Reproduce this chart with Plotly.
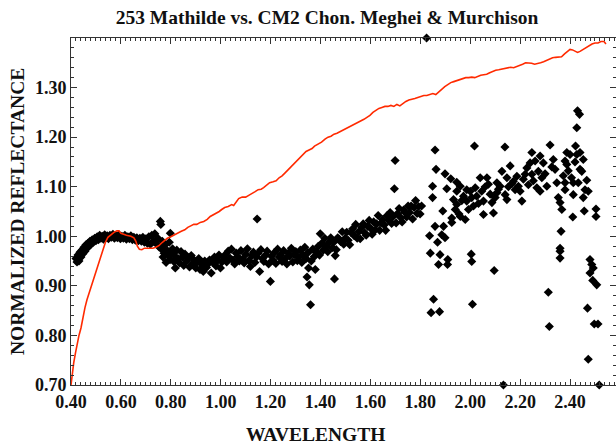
import numpy as np
import plotly.graph_objects as go

# ---------------- data ----------------
# Red line: CM2 chondrite (Meghei & Murchison) spectrum
cm2_wl = [0.400, 0.405, 0.411, 0.418, 0.425, 0.432, 0.440, 0.448, 0.456, 0.464,
          0.472, 0.480, 0.490, 0.498, 0.508, 0.518, 0.528, 0.538, 0.548, 0.560,
          0.572, 0.584, 0.592, 0.600, 0.610, 0.622, 0.640, 0.652, 0.660, 0.666,
          0.674, 0.684, 0.694, 0.704, 0.716, 0.728, 0.740, 0.752, 0.762, 0.774,
          0.786, 0.800, 0.814, 0.828, 0.842, 0.856, 0.868, 0.880, 0.892, 0.904,
          0.918, 0.932, 0.946, 0.958, 0.970, 0.982, 0.994, 1.004, 1.016, 1.030,
          1.044, 1.052, 1.060, 1.072, 1.086, 1.100, 1.114, 1.126, 1.138, 1.150,
          1.162, 1.172, 1.184, 1.196, 1.210, 1.222, 1.234, 1.246, 1.258, 1.270,
          1.282, 1.294, 1.306, 1.318, 1.330, 1.342, 1.354, 1.366, 1.376, 1.390,
          1.404, 1.418, 1.430, 1.442, 1.454, 1.466, 1.478, 1.490, 1.502, 1.514,
          1.526, 1.538, 1.550, 1.562, 1.574, 1.586, 1.598, 1.610, 1.622, 1.634,
          1.646, 1.658, 1.670, 1.682, 1.694, 1.706, 1.718, 1.730, 1.742, 1.754,
          1.766, 1.778, 1.790, 1.802, 1.814, 1.826, 1.838, 1.850, 1.862, 1.874,
          1.886, 1.898, 1.910, 1.922, 1.934, 1.946, 1.958, 1.970, 1.982, 1.994,
          2.006, 2.018, 2.030, 2.042, 2.054, 2.066, 2.078, 2.090, 2.102, 2.114,
          2.126, 2.138, 2.150, 2.162, 2.174, 2.186, 2.198, 2.210, 2.222, 2.234,
          2.246, 2.258, 2.270, 2.282, 2.294, 2.306, 2.318, 2.330, 2.342, 2.354,
          2.366, 2.378, 2.390, 2.400, 2.410, 2.420, 2.430, 2.440, 2.452, 2.464,
          2.476, 2.488, 2.500, 2.512, 2.524, 2.536, 2.544]
cm2_refl = [0.700, 0.725, 0.745, 0.765, 0.785, 0.800, 0.815, 0.838, 0.856, 0.872,
            0.885, 0.898, 0.915, 0.928, 0.943, 0.956, 0.972, 0.988, 0.998, 1.004,
            1.008, 1.011, 1.011, 1.006, 1.004, 1.002, 1.000, 0.997, 0.990, 0.980,
            0.974, 0.973, 0.976, 0.976, 0.975, 0.976, 0.978, 0.981, 0.986, 0.992,
            0.996, 0.999, 1.003, 1.006, 1.010, 1.013, 1.018, 1.021, 1.024, 1.024,
            1.028, 1.030, 1.034, 1.040, 1.043, 1.046, 1.050, 1.054, 1.058, 1.060,
            1.064, 1.062, 1.068, 1.076, 1.079, 1.079, 1.083, 1.086, 1.090, 1.094,
            1.095, 1.098, 1.103, 1.108, 1.110, 1.112, 1.118, 1.122, 1.128, 1.134,
            1.140, 1.146, 1.154, 1.160, 1.166, 1.171, 1.174, 1.177, 1.182, 1.186,
            1.190, 1.196, 1.200, 1.202, 1.206, 1.208, 1.211, 1.214, 1.218, 1.220,
            1.224, 1.227, 1.230, 1.232, 1.236, 1.240, 1.244, 1.250, 1.254, 1.258,
            1.260, 1.262, 1.262, 1.264, 1.262, 1.266, 1.263, 1.268, 1.272, 1.275,
            1.276, 1.278, 1.280, 1.282, 1.284, 1.284, 1.286, 1.288, 1.286, 1.292,
            1.297, 1.302, 1.306, 1.310, 1.312, 1.314, 1.316, 1.318, 1.320, 1.320,
            1.321, 1.320, 1.323, 1.325, 1.326, 1.327, 1.330, 1.333, 1.335, 1.336,
            1.337, 1.339, 1.340, 1.341, 1.340, 1.342, 1.344, 1.347, 1.350, 1.350,
            1.349, 1.347, 1.348, 1.350, 1.352, 1.355, 1.357, 1.360, 1.361, 1.361,
            1.362, 1.368, 1.374, 1.377, 1.376, 1.373, 1.371, 1.373, 1.377, 1.381,
            1.384, 1.388, 1.390, 1.390, 1.393, 1.393, 1.388]

# Black diamonds: 253 Mathilde, in wavelength segments
seg1_wl = [0.420, 0.424, 0.428, 0.432, 0.436, 0.440, 0.444, 0.448, 0.452, 0.456,
           0.460, 0.464, 0.468, 0.472, 0.476, 0.480, 0.485, 0.490, 0.495, 0.500,
           0.505, 0.510, 0.515, 0.520, 0.525, 0.530, 0.535, 0.540, 0.545, 0.550,
           0.556, 0.562, 0.568, 0.574, 0.580, 0.586, 0.592, 0.598, 0.604, 0.610,
           0.616, 0.622, 0.628, 0.634, 0.640, 0.646, 0.652, 0.658, 0.664, 0.670,
           0.676, 0.682, 0.688, 0.694, 0.700, 0.706, 0.712, 0.718, 0.724, 0.730,
           0.736, 0.742, 0.748, 0.754, 0.758, 0.760]
seg1_refl = [0.955, 0.948, 0.962, 0.950, 0.968, 0.958, 0.972, 0.965, 0.978, 0.970,
             0.983, 0.976, 0.986, 0.980, 0.990, 0.984, 0.993, 0.988, 0.996, 0.991,
             0.999, 0.993, 1.002, 0.996, 1.000, 0.994, 1.003, 0.997, 1.001, 0.995,
             1.002, 0.998, 1.004, 0.996, 1.001, 0.997, 1.003, 0.995, 1.000, 0.996,
             1.002, 0.994, 0.999, 0.995, 1.001, 0.993, 0.998, 0.992, 0.997, 0.991,
             0.996, 0.990, 0.998, 0.988, 0.995, 0.986, 0.999, 0.984, 1.002, 0.990,
             1.005, 0.985, 0.996, 0.978, 1.030, 1.024]

seg2_wl = [0.762, 0.766, 0.769, 0.773, 0.777, 0.781, 0.786, 0.790, 0.794, 0.797,
           0.798, 0.803, 0.807, 0.812, 0.816, 0.818, 0.824, 0.829, 0.835, 0.841,
           0.846, 0.852, 0.857, 0.864, 0.869, 0.875, 0.882, 0.888, 0.893, 0.900,
           0.906, 0.912, 0.917, 0.924, 0.930, 0.936, 0.943, 0.949, 0.955, 0.962,
           0.968, 0.975, 0.981, 0.987, 0.993, 0.999, 1.005, 1.011]
seg2_refl = [0.975, 0.990, 0.958, 0.966, 0.983, 0.947, 0.971, 0.962, 0.988, 0.953,
             1.006, 0.968, 0.975, 0.949, 0.960, 0.936, 0.972, 0.955, 0.946, 0.969,
             0.958, 0.941, 0.964, 0.950, 0.957, 0.938, 0.961, 0.945, 0.952, 0.936,
             0.948, 0.955, 0.933, 0.943, 0.929, 0.950, 0.937, 0.944, 0.952, 0.926,
             0.947, 0.958, 0.940, 0.951, 0.962, 0.936, 0.948, 0.957]

seg3_wl = [1.017, 1.024, 1.030, 1.037, 1.043, 1.049, 1.056, 1.062, 1.068, 1.075,
           1.081, 1.088, 1.094, 1.101, 1.107, 1.113, 1.119, 1.125, 1.131, 1.137,
           1.143, 1.146, 1.150, 1.156, 1.161, 1.167, 1.173, 1.180, 1.186, 1.192,
           1.199, 1.203, 1.209, 1.215, 1.221, 1.228, 1.234, 1.240, 1.246, 1.252,
           1.259, 1.265, 1.271, 1.277, 1.283, 1.289, 1.295, 1.301, 1.307, 1.313,
           1.319, 1.325, 1.331, 1.337, 1.342, 1.346, 1.350, 1.352, 1.355, 1.360,
           1.363, 1.369, 1.375, 1.379, 1.385, 1.391, 1.396, 1.399]
seg3_refl = [0.962, 0.948, 0.970, 0.956, 0.974, 0.952, 0.944, 0.966, 0.959, 0.950,
             0.971, 0.954, 0.946, 0.964, 0.975, 0.951, 0.939, 0.961, 0.968, 0.947,
             0.958, 1.035, 0.966, 0.929, 0.973, 0.955, 0.949, 0.962, 0.970, 0.944,
             0.909, 0.960, 0.952, 0.967, 0.945, 0.974, 0.958, 0.962, 0.949, 0.971,
             0.955, 0.944, 0.966, 0.960, 0.976, 0.948, 0.963, 0.969, 0.951, 0.958,
             0.972, 0.947, 0.962, 0.978, 0.955, 0.918, 0.967, 0.936, 0.902, 0.862,
             0.950, 0.974, 0.959, 0.933, 0.968, 0.980, 0.962, 1.005]

seg4_wl = [1.405, 1.411, 1.417, 1.423, 1.429, 1.435, 1.441, 1.447, 1.453, 1.456,
           1.459, 1.463, 1.469, 1.475, 1.481, 1.487, 1.493, 1.499, 1.505, 1.511,
           1.517, 1.523, 1.529, 1.535, 1.541, 1.547, 1.553, 1.559, 1.565, 1.571,
           1.577, 1.583, 1.589, 1.595, 1.601, 1.607, 1.613, 1.619, 1.625, 1.631,
           1.637, 1.643, 1.649, 1.655, 1.661, 1.667, 1.673, 1.679, 1.685, 1.691,
           1.696, 1.699, 1.703, 1.709, 1.715, 1.721, 1.727, 1.733, 1.739, 1.745,
           1.751, 1.757, 1.763, 1.769, 1.775, 1.781, 1.787, 1.793, 1.799, 1.805]
seg4_refl = [0.986, 0.972, 0.996, 0.980, 0.969, 0.988, 0.997, 0.977, 0.988, 0.914,
             0.961, 0.973, 0.997, 0.994, 0.989, 1.009, 0.984, 0.996, 1.008, 0.992,
             0.983, 1.007, 1.015, 1.001, 1.024, 0.996, 1.009, 0.995, 1.018, 1.025,
             1.007, 1.002, 1.020, 1.032, 1.016, 1.004, 1.029, 1.013, 1.025, 1.042,
             1.012, 1.027, 1.034, 1.023, 1.012, 1.042, 1.032, 1.048, 1.026, 1.040,
             1.096, 1.153, 1.027, 1.046, 1.056, 1.038, 1.029, 1.053, 1.048, 1.039,
             1.061, 1.048, 1.061, 1.035, 1.058, 1.072, 1.046, 1.060, 1.045, 1.061]

seg5_wl = [1.825, 1.837, 1.840, 1.843, 1.849, 1.849, 1.853, 1.859, 1.859, 1.863,
           1.869, 1.873, 1.877, 1.879, 1.886, 1.890, 1.893, 1.899, 1.899, 1.906,
           1.909, 1.910, 1.922, 1.926, 1.926, 1.933, 1.940, 1.946, 1.946, 1.946,
           1.955, 1.960, 1.960, 1.966, 1.973, 1.980, 1.986, 1.986, 1.993, 2.000,
           2.004, 2.006, 2.006, 2.009, 2.013, 2.017, 2.020, 2.026, 2.033, 2.040,
           2.046, 2.053, 2.053, 2.060, 2.067, 2.073, 2.080, 2.087, 2.093, 2.096,
           2.100, 2.107, 2.107, 2.113, 2.120, 2.127, 2.133, 2.139, 2.140, 2.147,
           2.147, 2.153, 2.160, 2.167, 2.173, 2.180, 2.187, 2.193, 2.200, 2.207,
           2.213, 2.220, 2.227, 2.233, 2.240, 2.247, 2.247, 2.253, 2.260, 2.267,
           2.273, 2.280, 2.280, 2.287, 2.293, 2.300, 2.307, 2.313, 2.317, 2.320,
           2.327, 2.333, 2.340, 2.347, 2.353, 2.360, 2.360, 2.360, 2.360, 2.364,
           2.367, 2.373, 2.380, 2.380, 2.380, 2.387, 2.387, 2.393, 2.400, 2.406,
           2.411, 2.413, 2.413, 2.420, 2.422, 2.427, 2.427, 2.430, 2.433, 2.438,
           2.440, 2.440, 2.447, 2.453, 2.453, 2.457, 2.460, 2.467, 2.470, 2.473,
           2.473, 2.480, 2.480, 2.487, 2.491, 2.493, 2.497, 2.504, 2.504, 2.507,
           2.512, 2.517]
seg5_refl = [1.400, 1.001, 0.966, 0.846, 1.101, 1.078, 0.873, 1.174, 1.020, 1.135,
             0.988, 0.943, 0.848, 0.963, 1.003, 1.051, 1.020, 0.997, 1.126, 1.096,
             0.943, 0.953, 1.116, 1.037, 1.028, 1.074, 1.054, 1.064, 1.109, 1.091,
             1.045, 1.040, 1.101, 1.072, 1.081, 1.034, 1.094, 1.071, 1.054, 1.091,
             0.964, 0.949, 1.078, 0.863, 1.061, 1.182, 1.098, 1.081, 1.066, 1.118,
             1.091, 1.071, 1.044, 1.100, 1.118, 1.105, 1.085, 1.068, 1.047, 0.931,
             1.078, 1.088, 1.108, 1.095, 1.101, 1.131, 0.700, 1.180, 1.084, 1.074,
             1.118, 1.100, 1.142, 1.106, 1.111, 1.094, 1.121, 1.101, 1.091, 1.071,
             1.115, 1.125, 1.138, 1.104, 1.148, 1.125, 1.169, 1.112, 1.152, 1.098,
             1.131, 1.162, 1.091, 1.118, 1.148, 1.126, 1.101, 0.887, 0.818, 1.184,
             1.140, 1.155, 1.135, 1.108, 1.078, 1.068, 0.976, 0.970, 0.956, 1.010,
             1.054, 1.122, 1.152, 1.108, 1.094, 1.169, 1.145, 1.132, 1.165, 1.118,
             1.039, 1.108, 1.084, 1.150, 1.182, 1.219, 1.165, 1.253, 1.108, 1.246,
             1.169, 1.135, 1.131, 1.155, 1.078, 1.051, 1.094, 1.113, 0.855, 0.752,
             1.091, 0.953, 0.926, 0.943, 0.911, 0.936, 0.823, 1.055, 1.040, 0.902,
             0.823, 0.700]

x_major_vals = [0.4, 0.5, 0.6, 0.7, 0.8, 0.9, 1.0, 1.1, 1.2, 1.3, 1.4,
                1.5, 1.6, 1.7, 1.8, 1.9, 2.0, 2.1, 2.2, 2.3, 2.4, 2.5]
x_tick_text = ["0.40", "", "0.60", "", "0.80", "", "1.00", "", "1.20", "", "1.40",
               "", "1.60", "", "1.80", "", "2.00", "", "2.20", "", "2.40", ""]
y_major_vals = [0.7, 0.8, 0.9, 1.0, 1.1, 1.2, 1.3, 1.4]
y_tick_text = ["0.70", "0.80", "0.90", "1.00", "1.10", "1.20", "1.30", ""]

title_text = "253 Mathilde vs. CM2 Chon. Meghei & Murchison"
x_title = "WAVELENGTH"
y_title = "NORMALIZED REFLECTANCE"

# ---------------- figure ----------------
mathilde_wl = seg1_wl + seg2_wl + seg3_wl + seg4_wl + seg5_wl
mathilde_refl = seg1_refl + seg2_refl + seg3_refl + seg4_refl + seg5_refl

W, H = 616, 444
ML, MT, MR, MB = 70.5, 38, 0, 59
x_lo, y_lo, y_hi = 0.40, 0.70, 1.40
px_per_x = 249.75
x_hi = x_lo + (W - ML - MR) / px_per_x

FONT = "Liberation Serif, Times New Roman, serif"
INK = "#111111"

fig = go.Figure()
fig.add_trace(go.Scatter(x=mathilde_wl, y=mathilde_refl, mode="markers",
                         marker=dict(symbol="diamond", size=7, color="black",
                                     line=dict(width=0)),
                         cliponaxis=False, showlegend=False))
fig.add_trace(go.Scatter(x=cm2_wl, y=cm2_refl, mode="lines",
                         line=dict(color="#ff2a00", width=1.6),
                         showlegend=False))

x_minor = [round(v, 2) for v in np.arange(0.40, 2.59, 0.02)]
y_minor = [round(v, 2) for v in np.arange(0.70, 1.401, 0.02)]

tickfont = dict(family=FONT, size=18, color=INK, weight="bold")
axis_common = dict(showline=True, linecolor="#333333", linewidth=1,
                   mirror="ticks", ticks="inside", ticklen=6, tickwidth=1,
                   tickcolor="#333333", showgrid=False, zeroline=False,
                   tickfont=tickfont)

fig.update_xaxes(range=[x_lo, x_hi], tickmode="array", tickvals=x_major_vals,
                 ticktext=x_tick_text,
                 minor=dict(tickmode="array", tickvals=x_minor, ticks="inside",
                            ticklen=3, tickcolor="#333333", showgrid=False),
                 **axis_common)
fig.update_yaxes(range=[y_lo, y_hi], tickmode="array", tickvals=y_major_vals,
                 ticktext=y_tick_text,
                 minor=dict(tickmode="array", tickvals=y_minor, ticks="inside",
                            ticklen=3, tickcolor="#333333", showgrid=False),
                 **axis_common)

fig.update_layout(
    width=W, height=H,
    margin=dict(l=ML, r=MR, t=MT, b=MB, pad=0),
    paper_bgcolor="white", plot_bgcolor="white",
    title=dict(text=title_text, x=327 / W, xanchor="center", xref="container",
               y=1 - 17.5 / H, yanchor="middle", yref="container",
               font=dict(family=FONT, size=19.5, color=INK, weight="bold")),
    annotations=[
        dict(text=x_title, xref="paper", yref="paper",
             x=(315 - ML) / (W - ML - MR), y=-(434 - (H - MB)) / (H - MT - MB),
             xanchor="center", yanchor="middle", showarrow=False,
             font=dict(family=FONT, size=19.5, color=INK, weight="bold")),
        dict(text=y_title, xref="paper", yref="paper",
             x=(17 - ML) / (W - ML - MR), y=0.5, textangle=-90,
             xanchor="center", yanchor="middle", showarrow=False,
             font=dict(family=FONT, size=19.5, color=INK, weight="bold")),
    ],
)

fig.write_html("out.html")
